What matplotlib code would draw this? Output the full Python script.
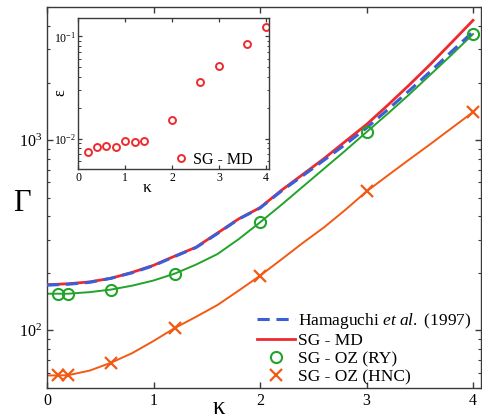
import numpy as np
import matplotlib
matplotlib.use('Agg')
import matplotlib.pyplot as plt
from matplotlib.ticker import LogLocator, NullFormatter, LogFormatterSciNotation

plt.rcParams['font.family'] = ['Liberation Serif', 'DejaVu Serif']
plt.rcParams['mathtext.fontset'] = 'custom'
plt.rcParams['mathtext.rm'] = 'Liberation Serif'
plt.rcParams['mathtext.it'] = 'Liberation Serif:italic'

# melting line, Hamaguchi et al. (1997) and SG - MD
kappa_line = [0.0, 0.2, 0.4, 0.6, 0.8, 1.0, 1.2, 1.4, 1.6, 1.8, 2.0,
              2.2, 2.4, 2.6, 2.8, 3.0, 3.2, 3.4, 3.6, 3.8, 4.0]
gamma_hamaguchi = [173, 175, 179, 188, 201, 219, 245, 273, 323, 385, 440,
                   540, 650, 785, 950, 1160, 1450, 1820, 2300, 2930, 3720]
gamma_md = [174, 176, 180, 188, 202, 220, 246, 274, 325, 386, 442,
            545, 660, 800, 985, 1210, 1530, 1950, 2510, 3270, 4270]

# SG - OZ curves
kappa_oz = [0.0, 0.1, 0.2, 0.4, 0.6, 0.8, 1.0, 1.2, 1.4, 1.6, 1.8, 2.0,
            2.2, 2.4, 2.6, 2.8, 3.0, 3.2, 3.4, 3.6, 3.8, 4.0]
gamma_ry = [156, 156, 156, 159, 164, 172, 183, 199, 222, 252, 302, 370,
            457, 569, 708, 881, 1104, 1380, 1738, 2213, 2818, 3614]
gamma_hnc = [58, 58, 58.2, 61.5, 67.6, 76, 88, 103, 118, 136, 162, 194,
             236, 288, 348, 430, 538, 653, 791, 955, 1159, 1406]

# SG - OZ points
kappa_pts = [0.1, 0.2, 0.6, 1.2, 2.0, 3.0, 4.0]
ry_pts = [156, 156, 164, 199, 370, 1104, 3614]
hnc_pts = [58, 58.2, 67.6, 103, 194, 538, 1406]

# inset: relative error of SG - MD
kappa_err = [0.2, 0.4, 0.6, 0.8, 1.0, 1.2, 1.4, 2.0, 2.6, 3.0, 3.6, 4.0]
eps_err = [0.00738, 0.00827, 0.00846, 0.00827, 0.00955, 0.00926, 0.00955,
           0.0151, 0.0358, 0.0518, 0.0845, 0.1236]

c_blue = '#3a5fd6'
c_red = '#ee2a2e'
c_green = '#22a32a'
c_orange = '#f25a14'
c_spine = '#3a3a3a'

W, H = 482, 420
fig = plt.figure(figsize=(W / 100.0, H / 100.0), dpi=100)

ax = fig.add_axes([47 / W, 1 - 387.7 / H, (481 - 47) / W, (387.7 - 7.3) / H])
ax.plot(kappa_line, gamma_md, color=c_red, lw=2.0, label='SG - MD', zorder=3)
ax.plot(kappa_line, gamma_hamaguchi, color=c_blue, lw=2.2, dashes=(4, 2.2),
        label='Hamaguchi $\\it{et\\ al.}$ (1997)', zorder=4)
ax.plot(kappa_oz, gamma_ry, color=c_green, lw=1.4, zorder=2)
ax.plot(kappa_oz, gamma_hnc, color=c_orange, lw=1.4, zorder=2)
ax.plot(kappa_pts, ry_pts, 'o', ms=8, mfc='none', mec=c_green, mew=1.5,
        label='SG - OZ (RY)', zorder=5)
ax.plot(kappa_pts, hnc_pts, 'x', ms=9, mec=c_orange, mew=1.6,
        label='SG - OZ (HNC)', zorder=5)

ax.set_yscale('log')
ax.set_xlim(0, 4.075)
ax.set_ylim(50, 5000)
ax.set_xticks([0, 1, 2, 3, 4])
ax.yaxis.set_major_locator(LogLocator(base=10, numticks=10))
ax.yaxis.set_major_formatter(LogFormatterSciNotation())
ax.yaxis.set_minor_locator(LogLocator(base=10, subs=np.arange(2, 10), numticks=20))
ax.yaxis.set_minor_formatter(NullFormatter())
ax.tick_params(which='both', direction='in', top=True, right=True,
               colors=c_spine, labelcolor='k', labelsize=11.5)
ax.tick_params(which='major', length=4, width=1)
ax.tick_params(which='minor', length=2.5, width=0.8)
ax.tick_params(axis='x', pad=4)
for s in ax.spines.values():
    s.set_color(c_spine)
    s.set_linewidth(1.0)

h, l = ax.get_legend_handles_labels()
order = [1, 0, 2, 3]
ax.legend([h[i] for i in order], [l[i] for i in order], loc='lower left',
          bbox_to_anchor=(0.484, 0.006), frameon=False, fontsize=12.5,
          borderpad=0, borderaxespad=0, handlelength=2.2, handletextpad=0.15,
          labelspacing=0.12)

fig.text(22 / W, 1 - 203 / H, '\u0393', fontsize=22, ha='center', va='center')
fig.text(219 / W, 1 - 419 / H, '\u03ba', fontsize=18, ha='center', va='bottom')

# inset
axi = fig.add_axes([78.3 / W, 1 - 169.3 / H, (269.3 - 78.3) / W, (169.3 - 18.3) / H])
axi.plot(kappa_err, eps_err, 'o', ms=5, mfc='none', mec=c_red, mew=1.4,
         label='SG - MD')
axi.set_yscale('log')
axi.set_xlim(0, 4.075)
axi.set_ylim(0.005, 0.15)
axi.set_xticks([0, 1, 2, 3, 4])
axi.yaxis.set_major_locator(LogLocator(base=10, numticks=10))
axi.yaxis.set_major_formatter(LogFormatterSciNotation())
axi.yaxis.set_minor_locator(LogLocator(base=10, subs=np.arange(2, 10), numticks=20))
axi.yaxis.set_minor_formatter(NullFormatter())
axi.tick_params(which='both', direction='in', top=True, right=True,
                colors=c_spine, labelcolor='k', labelsize=8.5)
axi.tick_params(which='major', length=3, width=0.9)
axi.tick_params(which='minor', length=1.8, width=0.7)
axi.tick_params(axis='x', pad=2)
axi.tick_params(axis='y', pad=1.5)
for s in axi.spines.values():
    s.set_color(c_spine)
    s.set_linewidth(1.0)
axi.legend(loc='lower left', bbox_to_anchor=(0.5, 0.01), frameon=False,
           fontsize=11.5, borderpad=0, borderaxespad=0, handlelength=0.9,
           handletextpad=0.3)
fig.text(60 / W, 1 - 93 / H, '\u03b5', fontsize=11.5, rotation=90,
         ha='center', va='center')
fig.text(147 / W, 1 - 188 / H, '\u03ba', fontsize=12.5, ha='center', va='center')

fig.savefig('out.png', dpi=100)
